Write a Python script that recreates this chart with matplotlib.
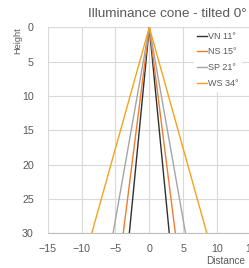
import matplotlib
matplotlib.use('Agg')
import matplotlib.pyplot as plt

# cone outlines: (left foot, apex, right foot) at depth 30
names = ["VN 11°", "NS 15°", "SP 21°", "WS 34°"]
half_width = [2.95, 3.85, 5.35, 8.5]
depth = 30
colors = ["#303030", "#ED7D31", "#A5A5A5", "#F5A31A"]

plt.rcParams['font.family'] = ['Liberation Sans', 'DejaVu Sans']

fig = plt.figure(figsize=(2.49, 2.68), dpi=100)
ax = fig.add_axes([47.7/249, 1-233.3/268, 203.2/249, (233.3-27.3)/268])

for name, hw, c in zip(names, half_width, colors):
    ax.plot([-hw, 0, hw], [depth, 0, depth], color=c, lw=1.0, label=name)

ax.set_xlim(-15, 15)
ax.set_ylim(30, 0)
ax.set_xticks(range(-15, 16, 5))
ax.set_yticks(range(0, 31, 5))
ax.grid(True, color='#d9d9d9', lw=0.8)
ax.set_axisbelow(True)
for s in ['top', 'right', 'left']:
    ax.spines[s].set_visible(False)
ax.spines['bottom'].set_color('#bfbfbf')
ax.spines['bottom'].set_linewidth(0.8)
ax.tick_params(length=0, labelsize=7.7, colors='#595959', pad=8)
ax.tick_params(axis='y', pad=10)

leg = ax.legend(loc='upper left', bbox_to_anchor=(194/249, 1-29/268),
                bbox_transform=fig.transFigure, frameon=True, fontsize=6.5,
                handlelength=1.1, handletextpad=0.1, labelspacing=0.75,
                borderpad=0.3, borderaxespad=0, fancybox=False)
leg.get_frame().set_edgecolor('white')
leg.get_frame().set_facecolor('white')
leg.get_frame().set_alpha(1)
for t in leg.get_texts():
    t.set_color('#595959')

fig.text(167.5/249, 1-14/268, "Illuminance cone - tilted 0°", ha='center', va='center',
         fontsize=9.7, color='#595959')
fig.text(18/249, 1-41/268, "Height", rotation=90, ha='center', va='center',
         fontsize=6.6, color='#595959')
fig.text(226/249, 1-261.5/268, "Distance", ha='center', va='center',
         fontsize=7.2, color='#595959')

fig.savefig("out.png", dpi=100)
